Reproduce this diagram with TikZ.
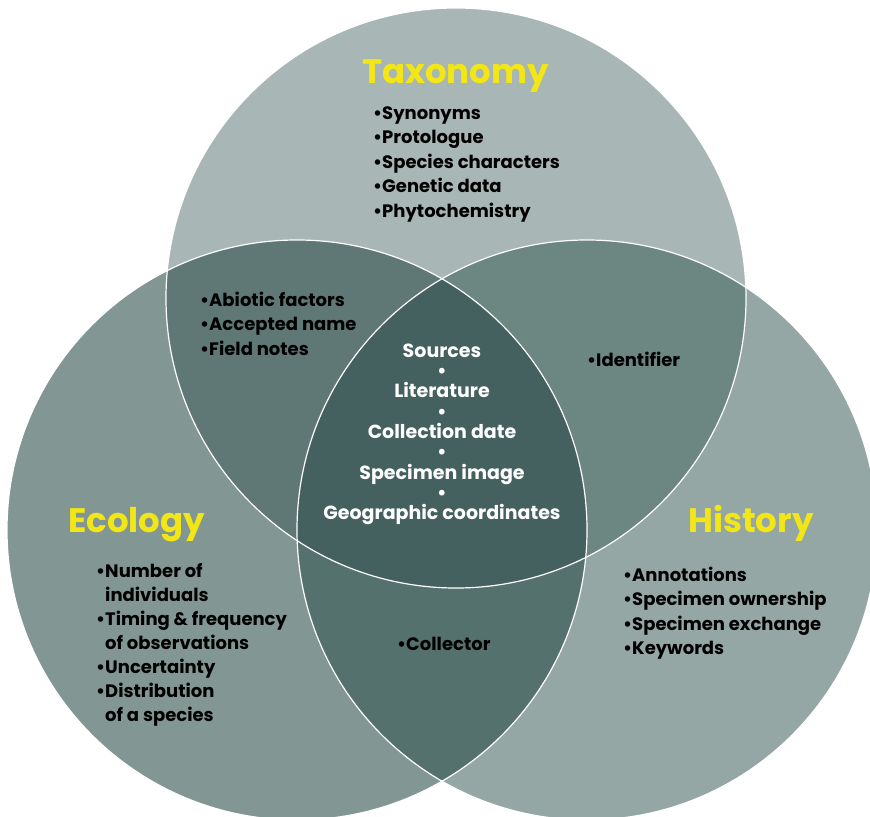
\documentclass[tikz,border=0pt]{standalone}
\usepackage{fontspec}
\setmainfont{Poppins}

\definecolor{taxofill}{HTML}{A8B6B5}
\definecolor{ecofill}{HTML}{829793}
\definecolor{hisfill}{HTML}{95A7A4}
\definecolor{taxecofill}{HTML}{5F7875}
\definecolor{taxhisfill}{HTML}{6C8682}
\definecolor{ecohisfill}{HTML}{55716D}
\definecolor{corefill}{HTML}{44615F}
\definecolor{titleyellow}{HTML}{F2E617}

\tikzset{
  title/.style={font=\fontsize{34bp}{38bp}\selectfont\bfseries, text=titleyellow, inner sep=0pt},
  item/.style={font=\fontsize{18bp}{21bp}\selectfont\bfseries, inner sep=0pt, anchor=base west},
  core/.style={item, font=\fontsize{19bp}{21bp}\selectfont\bfseries, text=white, anchor=base},
  ring/.style={draw=white, line width=1.2bp},
}

\begin{document}
\begin{tikzpicture}[x=1bp,y=-1bp]
\useasboundingbox (0,0) rectangle (870,817);
\clip (0,0) rectangle (870,817);
\coordinate (tax) at (456,298);
\coordinate (eco) at (297,530);
\coordinate (his) at (587,530);

% the three sets
\fill[taxofill] (tax) circle[radius=290bp];
\fill[ecofill] (eco) circle[radius=290bp];
\fill[hisfill] (his) circle[radius=290bp];
\begin{scope}
  \clip (tax) circle[radius=290bp];
  \fill[taxecofill] (eco) circle[radius=290bp];
  \fill[taxhisfill] (his) circle[radius=290bp];
\end{scope}
\begin{scope}
  \clip (eco) circle[radius=290bp];
  \fill[ecohisfill] (his) circle[radius=290bp];
\end{scope}
\begin{scope}
  \clip (tax) circle[radius=290bp];
  \clip (eco) circle[radius=290bp];
  \fill[corefill] (his) circle[radius=290bp];
\end{scope}
\draw[ring] (tax) circle[radius=290bp];
\draw[ring] (eco) circle[radius=290bp];
\draw[ring] (his) circle[radius=290bp];

% titles
\node[title, anchor=base] (taxtitle) at (455.5,84) {Taxonomy};
\node[title, anchor=base west] (ecotitle) at (68,532) {Ecology};
\node[title, anchor=base west] (histitle) at (688,532) {History};

% lists
\foreach \txt [count=\i] in {•Synonyms, •Protologue, •Species characters, •Genetic data, •Phytochemistry}
  \node[item] (tax-\i) at (373, 94.5+24.5*\i) {\txt};
\foreach \txt [count=\i] in {•Abiotic factors, •Accepted name, •Field notes}
  \node[item] (taxeco-\i) at (200, 281.5+24.5*\i) {\txt};
\node[item] (taxhis) at (587,366) {•Identifier};
\foreach \txt [count=\i] in {•Number of, \phantom{•}individuals, •Timing \& frequency, \phantom{•}of observations, •Uncertainty, •Distribution, \phantom{•}of a species}
  \node[item] (eco-\i) at (96, 553+24*\i) {\txt};
\foreach \txt [count=\i] in {•Annotations, •Specimen ownership, •Specimen exchange, •Keywords}
  \node[item] (his-\i) at (623, 556.5+24.5*\i) {\txt};
\node[item] (ecohis) at (397,650) {•Collector};
\foreach \txt [count=\i] in {Sources, •, Literature, •, Collection date, •, Specimen image, •, Geographic coordinates}
  \node[core] (core-\i) at (442, 336.65+20.35*\i) {\txt};
\end{tikzpicture}
\end{document}
